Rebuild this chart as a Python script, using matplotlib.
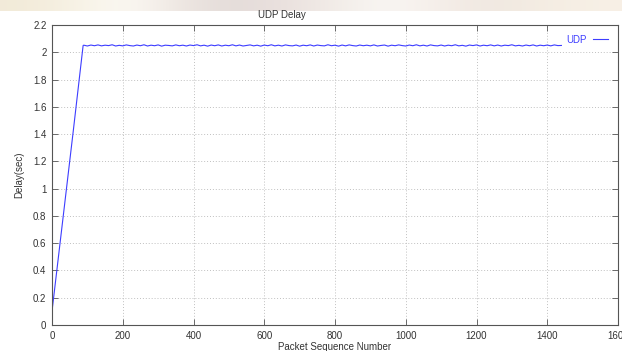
import numpy as np
import matplotlib.pyplot as plt

plt.rcParams['font.family'] = ['Liberation Sans', 'DejaVu Sans']

# ramp-up part (packet seq, delay in sec)
ramp_seq = [0, 30, 60, 88]
ramp_delay = [0.10, 0.76, 1.42, 2.05]

# steady part, one reading every 10 packets from 90 to 1440
steady_seq = np.arange(90, 1441, 10)
steady_delay = [
    2.052, 2.046, 2.053, 2.048, 2.054, 2.047, 2.052, 2.049, 2.055, 2.046,
    2.051, 2.047, 2.054, 2.049, 2.046, 2.053, 2.048, 2.055, 2.046, 2.052,
    2.048, 2.054, 2.045, 2.052, 2.050, 2.047, 2.054, 2.048, 2.052, 2.046,
    2.053, 2.049, 2.055, 2.047, 2.052, 2.045, 2.053, 2.048, 2.054, 2.046,
    2.052, 2.048, 2.055, 2.047, 2.053, 2.046, 2.050, 2.054, 2.047, 2.052,
    2.045, 2.053, 2.048, 2.055, 2.047, 2.052, 2.046, 2.054, 2.049, 2.047,
    2.053, 2.045, 2.052, 2.048, 2.054, 2.046, 2.053, 2.049, 2.047, 2.055,
    2.048, 2.052, 2.045, 2.053, 2.047, 2.054, 2.049, 2.046, 2.053, 2.048,
    2.052, 2.047, 2.054, 2.046, 2.050, 2.053, 2.045, 2.052, 2.048, 2.054,
    2.049, 2.046, 2.053, 2.048, 2.055, 2.047, 2.052, 2.046, 2.054, 2.049,
    2.047, 2.053, 2.046, 2.052, 2.048, 2.055, 2.047, 2.051, 2.045, 2.053,
    2.049, 2.054, 2.046, 2.052, 2.048, 2.054, 2.047, 2.053, 2.046, 2.052,
    2.049, 2.055, 2.047, 2.051, 2.046, 2.053, 2.048, 2.054, 2.046, 2.052,
    2.048, 2.053, 2.047, 2.054, 2.049, 2.050,
]

seq = list(ramp_seq) + list(steady_seq)
delay = ramp_delay + steady_delay

xticks = np.arange(0, 1601, 200)
yticks = np.arange(0, 2.21, 0.2)

W, H = 622, 351
fig = plt.figure(figsize=(W / 100, H / 100), dpi=100)
fig.patch.set_facecolor('white')

# blurry photo strip across the very top
strip = fig.add_axes([0, 1 - 11 / H, 1, 11 / H])
strip_cols = np.array([[
    (0.95, 0.92, 0.85), (0.97, 0.95, 0.90), (0.99, 0.98, 0.96), (0.93, 0.90, 0.88),
    (0.89, 0.86, 0.85), (0.92, 0.88, 0.87), (0.95, 0.93, 0.91), (0.98, 0.97, 0.96),
    (0.96, 0.93, 0.91), (0.94, 0.91, 0.88), (0.96, 0.93, 0.89), (0.97, 0.94, 0.90),
]])
strip.imshow(strip_cols, aspect='auto', interpolation='bicubic')
strip.axis('off')

ax = fig.add_axes([52 / W, 1 - 325 / H, (618 - 52) / W, (325 - 25) / H])
ax.plot(seq, delay, color='#3d3dff', lw=0.8, label='UDP')

ax.set_xlim(0, 1600)
ax.set_ylim(0, 2.2)
ax.set_xticks(xticks)
ax.set_yticks(yticks)
ax.set_xticklabels([str(v) for v in xticks])
ax.set_yticklabels(['0' if v == 0 else ('%g' % round(v, 1)) for v in yticks])
ax.tick_params(direction='in', length=4, width=0.6, top=True, right=True,
               labelsize=7, labelcolor='#333333', color='#555555', pad=4)
ax.grid(True, linestyle=(0, (1, 2)), color='#c0c0c0', lw=0.7)
for s in ax.spines.values():
    s.set_color('#555555')
    s.set_linewidth(0.8)

ax.set_xlabel('Packet Sequence Number', fontsize=7, color='#333333', labelpad=1)
ax.set_ylabel('Delay(sec)', fontsize=7, color='#333333', labelpad=6)
fig.text(282 / W, 1 - 15 / H, 'UDP Delay', fontsize=7, color='#333333',
         ha='center', va='center')

leg = ax.legend(loc='upper right', frameon=False, markerfirst=False,
                fontsize=7, labelcolor='#3d3dff', handlelength=1.6,
                borderaxespad=0.6, handletextpad=0.6)

fig.savefig('out.png', dpi=100)
